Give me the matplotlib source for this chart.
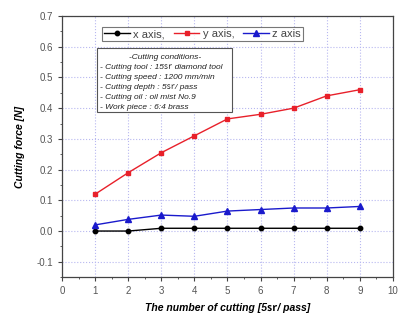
import matplotlib.pyplot as plt
from matplotlib.ticker import MultipleLocator
from matplotlib.patches import Rectangle

plt.rcParams['font.family'] = ['Liberation Sans', 'Noto Sans CJK KR', 'DejaVu Sans']

# number of cutting passes and measured forces [N]
passes = [1, 2, 3, 4, 5, 6, 7, 8, 9]
force_x = [0.0, 0.0, 0.009, 0.009, 0.009, 0.009, 0.009, 0.009, 0.009]
force_y = [0.12, 0.19, 0.255, 0.31, 0.365, 0.38, 0.40, 0.44, 0.46]
force_z = [0.02, 0.038, 0.052, 0.048, 0.065, 0.07, 0.075, 0.075, 0.08]

cond_title = "-Cutting conditions-"
conditions = ["- Cutting tool : 15\u33db diamond tool",
              "- Cutting speed : 1200 mm/min",
              "- Cutting depth : 5\u33db/ pass",
              "- Cutting oil : oil mist No.9",
              "- Work piece : 6:4 brass"]

fig = plt.figure(figsize=(3.98, 3.2), dpi=100)
ax = fig.add_axes([0.156, 0.134, 0.831, 0.816])

ax.plot(passes, force_x, '-o', color='black', lw=1, ms=3.2, label='x axis,')
ax.plot(passes, force_y, '-s', color='#e8202a', lw=1, ms=3.2, label='y axis,')
ax.plot(passes, force_z, '-^', color='#1a1acc', lw=1, ms=3.8, label='z axis')

ax.set_xlim(0, 10)
ax.set_ylim(-0.15, 0.7)
ax.xaxis.set_major_locator(MultipleLocator(1))
ax.xaxis.set_minor_locator(MultipleLocator(0.5))
ax.yaxis.set_major_locator(MultipleLocator(0.1))
ax.yaxis.set_minor_locator(MultipleLocator(0.05))
ax.yaxis.set_major_formatter(plt.FuncFormatter(lambda v, p: f"{v:.1f}"))
ax.grid(True, which='major', color='#b8b8f0', ls=':', lw=0.8)
ax.tick_params(which='both', direction='out', labelsize=7, labelcolor='#555555',
               color='#444444')
ax.tick_params(which='major', length=3)
ax.tick_params(which='minor', length=1.5)
for s in ax.spines.values():
    s.set_color('#444444')
    s.set_linewidth(0.9)

ax.set_xlabel("The number of cutting [5\u33db/ pass]", fontsize=7.5,
              fontweight='bold', style='italic', labelpad=5)
ax.set_ylabel("Cutting force [N]", fontsize=7.5, fontweight='bold',
              style='italic', labelpad=8)

leg = ax.legend(loc='upper center', bbox_to_anchor=(0.425, 0.98), ncol=3,
                frameon=True, fancybox=False, edgecolor='#555555',
                handlelength=2.3, handletextpad=0.3, columnspacing=0.8,
                borderpad=0.2, prop={'size': 8})
leg.get_frame().set_linewidth(0.8)
for t in leg.get_texts():
    t.set_color('#444444')

# conditions box
ax.add_patch(Rectangle((0.106, 0.632), 0.408, 0.245, transform=ax.transAxes,
                       fc='white', ec='#555555', lw=0.8, zorder=5))
ax.text(0.31, 0.855, cond_title, transform=ax.transAxes, fontsize=6,
        style='italic', ha='center', va='top', color='#222222', zorder=6)
for i, line in enumerate(conditions):
    ax.text(0.115, 0.817 - i * 0.0385, line, transform=ax.transAxes,
            fontsize=6, style='italic', ha='left', va='top',
            color='#222222', zorder=6)

fig.savefig('out.png', dpi=100)
